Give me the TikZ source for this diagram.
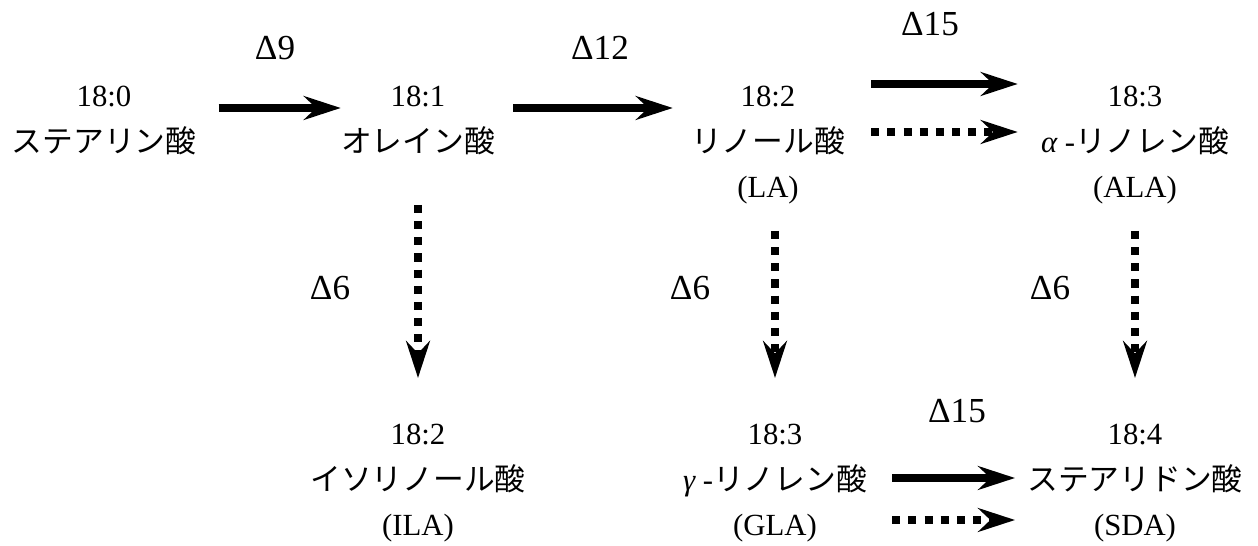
\documentclass[tikz,border=0pt]{standalone}
\usepackage{fontspec}
\setmainfont{Liberation Serif}
\newfontfamily\jp{Noto Sans CJK JP}
\usetikzlibrary{arrows.meta, calc, positioning}

\begin{document}
\begin{tikzpicture}[x=0.02cm, y=-0.02cm,
        acid/.style={anchor=north, align=center, inner sep=0pt, font=\fontsize{17.5}{26}\selectfont},
        delta/.style={font=\fontsize{20}{24}\selectfont},
        solidarrow/.style={line width=4.4pt, -{Stealth[length=21pt, width=13.5pt, inset=7pt]}},
        dotarrow/.style={solidarrow, dash pattern=on 4.6pt off 4.6pt}]
        \useasboundingbox (0,0) rectangle (1258,546);

        \node[acid] (sa) at (104,74) {\strut 18:0\\{\jp ステアリン酸}};
        \node[acid] (oa) at (418,74) {\strut 18:1\\{\jp オレイン酸}};
        \node[acid] (la) at (768,74) {\strut 18:2\\{\jp リノール酸}\\(LA)};
        \node[acid] (ala) at (1135,74) {\strut 18:3\\{\itshape α} -{\jp リノレン酸}\\(ALA)};
        \node[acid] (ila) at (418,412) {\strut 18:2\\{\jp イソリノール酸}\\(ILA)};
        \node[acid] (gla) at (775,412) {\strut 18:3\\{\itshape γ} -{\jp リノレン酸}\\(GLA)};
        \node[acid] (sda) at (1135,412) {\strut 18:4\\{\jp ステアリドン酸}\\(SDA)};

        \node[delta] (d9) at (275,48) {Δ9};
        \node[delta] (d12) at (600,48) {Δ12};
        \node[delta] (d15a) at (930,24) {Δ15};
        \node[delta] (d6a) at (330,288) {Δ6};
        \node[delta] (d6b) at (690,288) {Δ6};
        \node[delta] (d6c) at (1050,288) {Δ6};
        \node[delta] (d15b) at (957,411) {Δ15};

        \draw[solidarrow] ($(sa.north east)+(22,34)$) -- ($(oa.north west)+(0,34)$);
        \draw[solidarrow] ($(oa.north east)+(18,34)$) -- ($(la.north west)+(-18,34)$);
        \draw[solidarrow] ($(la.north east)+(26,10)$) -- ($(ala.north west)+(-23,10)$);
        \draw[dotarrow] ($(la.north east)+(26,58)$) -- ($(ala.north west)+(-23,58)$);
        \draw[dotarrow] ($(oa.north)+(0,131)$) -- ($(ila.north)+(0,-34)$);
        \draw[dotarrow] ($(la.north)+(7,157)$) -- ($(gla.north)+(0,-34)$);
        \draw[dotarrow] ($(ala.north)+(0,157)$) -- ($(sda.north)+(0,-34)$);
        \draw[solidarrow] ($(gla.north east)+(25,66)$) -- ($(sda.north west)+(-12,66)$);
        \draw[dotarrow] ($(gla.north east)+(25,108)$) -- ($(sda.north west)+(-12,108)$);

\end{tikzpicture}
\end{document}
